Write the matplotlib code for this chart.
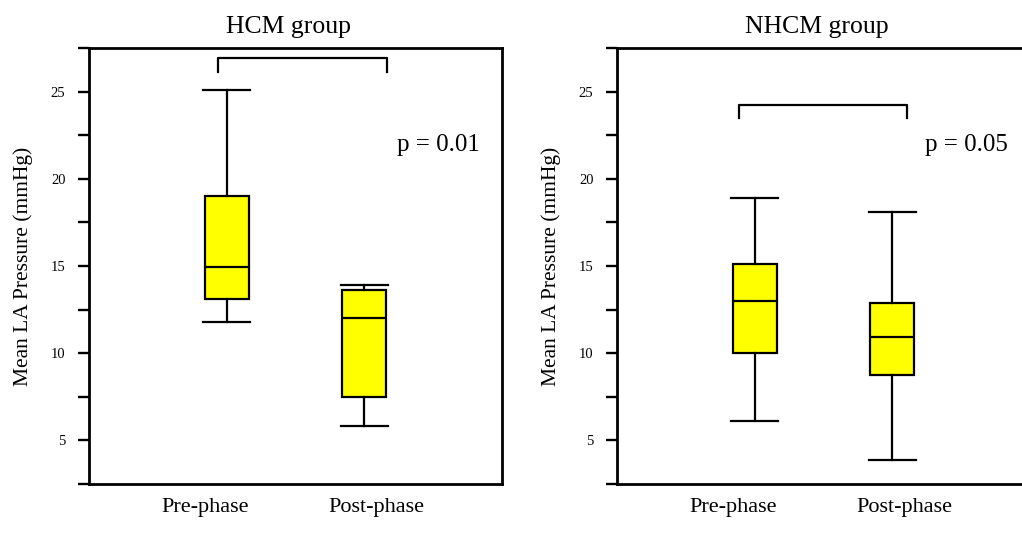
import matplotlib
matplotlib.use("Agg")
import matplotlib.pyplot as plt

# -------------------------
# data
# -------------------------
groups = ["HCM group", "NHCM group"]
phases = ["Pre-phase", "Post-phase"]

# HCM
hcm_whislo = [11.8, 5.85]
hcm_q1 = [13.1, 7.5]
hcm_med = [14.95, 12.0]
hcm_q3 = [19.0, 13.6]
hcm_whishi = [25.1, 13.9]

# NHCM
nhcm_whislo = [6.1, 3.9]
nhcm_q1 = [10.0, 8.75]
nhcm_med = [13.0, 10.95]
nhcm_q3 = [15.1, 12.85]
nhcm_whishi = [18.9, 18.1]

p_values = ["p = 0.01", "p = 0.05"]
bracket_top = [26.9, 24.25]
bracket_x = [(0.935, 2.165), (0.885, 2.105)]

plt.rcParams.update({
    "font.family": ["Liberation Serif", "DejaVu Serif"],
})

fig = plt.figure(figsize=(10.22, 5.52), dpi=100)
ax1 = fig.add_axes([89 / 1022, 68 / 552, 413 / 1022, 436 / 552])
ax2 = fig.add_axes([617 / 1022, 68 / 552, 413 / 1022, 436 / 552])


def make_stats(lo, q1, med, q3, hi):
    return [dict(whislo=lo[i], q1=q1[i], med=med[i], q3=q3[i], whishi=hi[i],
                 fliers=[]) for i in range(len(med))]


all_stats = [
    make_stats(hcm_whislo, hcm_q1, hcm_med, hcm_q3, hcm_whishi),
    make_stats(nhcm_whislo, nhcm_q1, nhcm_med, nhcm_q3, nhcm_whishi),
]

for ax, stats, title, ptxt, btop, bx in zip([ax1, ax2], all_stats, groups,
                                            p_values, bracket_top, bracket_x):
    lw = 1.6
    ax.bxp(stats, positions=[1, 2], widths=0.32, patch_artist=True,
           showfliers=False,
           boxprops=dict(facecolor="#FFFF00", edgecolor="black", linewidth=lw),
           medianprops=dict(color="black", linewidth=lw),
           whiskerprops=dict(color="black", linewidth=lw),
           capprops=dict(color="black", linewidth=lw),
           capwidths=0.34)

    ax.set_xlim(0, 3)
    ax.set_ylim(2.5, 27.5)
    ax.set_yticks([2.5, 5, 7.5, 10, 12.5, 15, 17.5, 20, 22.5, 25, 27.5])
    ax.set_yticklabels(["", "5", "", "10", "", "15", "", "20", "", "25", ""],
                       fontsize=10.5)
    ax.tick_params(axis="y", direction="out", length=8, width=1.7, pad=9)
    ax.set_xticks([0.84, 2.09])
    ax.set_xticklabels(phases, fontsize=16)
    ax.tick_params(axis="x", length=0, pad=10)
    for sp in ax.spines.values():
        sp.set_linewidth(2.0)

    ax.set_ylabel("Mean LA Pressure (mmHg)", fontsize=15.5, labelpad=13)
    ax.set_title(title, fontsize=18.5, pad=11, x=0.483)

    # significance bracket
    ax.plot([bx[0], bx[0], bx[1], bx[1]], [btop - 0.75, btop, btop, btop - 0.75],
            color="black", linewidth=1.6)
    ax.text(2.24, 21.95, ptxt, fontsize=18, va="center", ha="left")

fig.savefig("out.png", dpi=100)
